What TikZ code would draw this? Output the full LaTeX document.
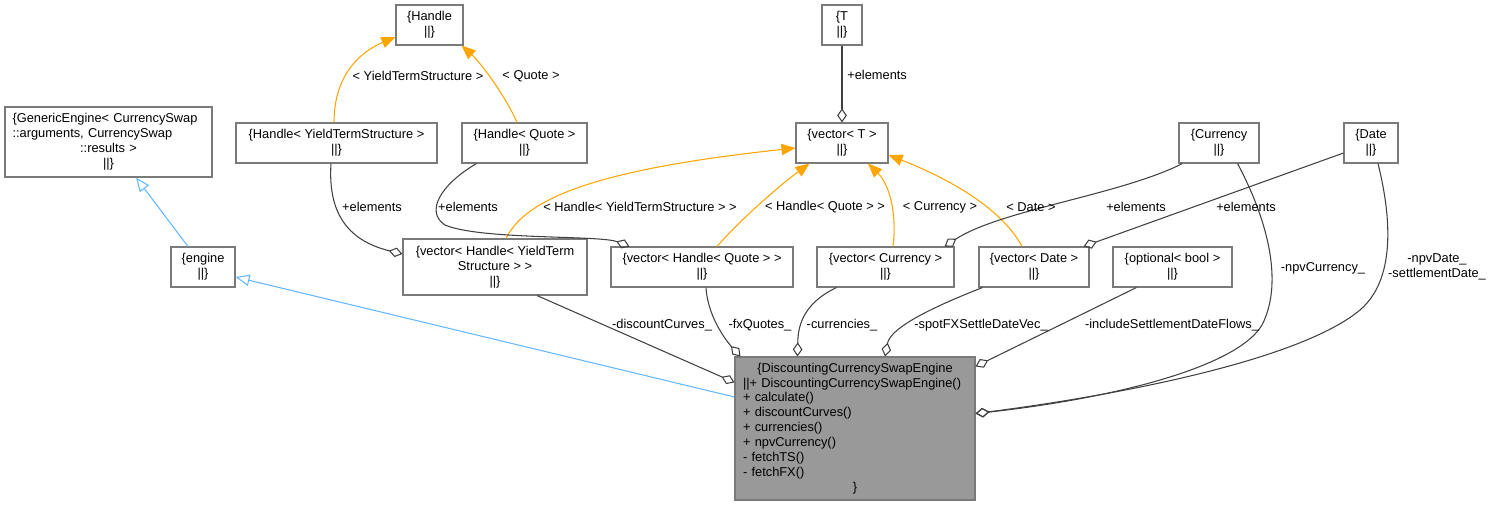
\documentclass[tikz,border=0pt]{standalone}
\usepackage{fontspec}
\setmainfont{Liberation Sans}
\usetikzlibrary{arrows.meta, calc}
\definecolor{edgegray}{HTML}{404040}
\definecolor{boxgray}{HTML}{7A7A7A}
\definecolor{clsfill}{HTML}{999999}
\definecolor{inhblue}{HTML}{63B8FF}
\definecolor{tplorange}{HTML}{FFA500}

\begin{document}
\begin{tikzpicture}[x=0.02cm, y=-0.02cm,
  every node/.style={font=\fontsize{7.3}{8.5}\selectfont},
  rec/.style 2 args={draw=boxgray, line width=0.6pt, fill=white, inner sep=0pt, minimum width=#1*0.02cm, minimum height=#2*0.02cm},
  cls/.style 2 args={rec={#1}{#2}, align=center},
  agg/.style={draw=edgegray, line width=0.6pt, -{Diamond[open,length=8pt,width=5.5pt]}},
  inh/.style={draw=inhblue, line width=0.6pt, -{Triangle[open,length=8pt,width=6.5pt]}},
  tpl/.style={draw=tplorange, line width=0.6pt, -{Triangle[length=8pt,width=6.5pt]}},
  lbl/.style={inner sep=0pt, align=center}]
\useasboundingbox (0,0) rectangle (1493,505);

\node[cls={67}{40}] (handle) at (429.5,25) {\{Handle\\||\}};
\node[cls={40}{40}] (t) at (842,25) {\{T\\||\}};
\node[rec={207}{70}, text width=3.84cm] (generic) at (108.5,142) {\raggedright\{GenericEngine< CurrencySwap\\::arguments, CurrencySwap\par\centering ::results >\\||\}\par};
\node[cls={201}{40}] (hyts) at (336.5,143) {\{Handle< YieldTermStructure >\\||\}};
\node[cls={125}{40}] (hquote) at (524.5,143) {\{Handle< Quote >\\||\}};
\node[cls={92}{40}] (vect) at (842,143) {\{vector< T >\\||\}};
\node[cls={80}{40}] (ccy) at (1219,143) {\{Currency\\||\}};
\node[cls={54}{40}] (date) at (1371,143) {\{Date\\||\}};
\node[cls={64}{40}] (engine) at (203,267) {\{engine\\||\}};
\node[cls={184}{56}] (vhyts) at (495,267) {\{vector< Handle< YieldTerm\\Structure > >\\||\}};
\node[cls={182}{40}] (vhquote) at (702,267) {\{vector< Handle< Quote > >\\||\}};
\node[cls={137}{40}] (vccy) at (885.5,267) {\{vector< Currency >\\||\}};
\node[cls={110}{40}] (vdate) at (1034,267) {\{vector< Date >\\||\}};
\node[cls={119}{40}] (optb) at (1172.5,267) {\{optional< bool >\\||\}};
\node[rec={240}{143}, fill=clsfill, text width=4.48cm] (main) at (855,428.5) {\centering\{DiscountingCurrencySwapEngine\par\raggedright ||+ DiscountingCurrencySwapEngine()\\+ calculate()\\+ discountCurves()\\+ currencies()\\+ npvCurrency()\\- fetchTS()\\- fetchFX()\par\centering\}\par};

\draw[inh] ($(engine.north)+(-15,0)$) -- ($(generic.south)+(27.5,0)$);
\draw[inh] ($(main.west)+(0,-31.5)$) -- ($(engine.east)+(0,10)$);
\draw[tpl] ($(hyts.north)+(-2.5,0)$) .. controls (334,75) and (360,52) .. ($(handle.west)+(0,12)$);
\draw[tpl] ($(hquote.north)+(-7.5,0)$) .. controls (505,95) and (480,62) .. ($(handle.south east)+(-2,0)$);
\draw[agg] (t) -- (vect);
\draw[tpl] ($(vhyts.north)+(11,0)$) .. controls (525,200) and (590,170) .. ($(vect.west)+(0,5)$);
\draw[tpl] ($(vhquote.north)+(15,0)$) .. controls (740,220) and (780,185) .. ($(vect.south west)+(14,0)$);
\draw[tpl] ($(vccy.north)+(7.5,0)$) .. controls (897,215) and (890,185) .. ($(vect.south)+(26,0)$);
\draw[tpl] ($(vdate.north)+(-12,0)$) .. controls (1000,205) and (940,175) .. ($(vect.east)+(0,12)$);
\draw[agg] ($(hyts.south)+(-5.5,0)$) .. controls (328,210) and (345,240) .. ($(vhyts.west)+(0,-13)$);
\draw[agg] ($(hquote.south west)+(15,0)$) .. controls (440,185) and (425,212) .. (445,225) .. controls (480,240) and (600,235) .. ($(vhquote.north west)+(19,0)$);
\draw[agg] ($(ccy.south west)+(4,0)$) .. controls (1120,195) and (1000,210) .. ($(vccy.north east)+(-10,0)$);
\draw[agg] ($(date.west)+(0,10)$) -- ($(vdate.north east)+(-6,0)$);
\draw[agg] ($(vhyts.south)+(42,0)$) -- ($(main.north west)+(0,26)$);
\draw[agg] ($(vhquote.south)+(4,0)$) .. controls (708,320) and (730,345) .. ($(main.north west)+(6,0)$);
\draw[agg] ($(vccy.south west)+(20,0)$) .. controls (800,305) and (798,330) .. ($(main.north west)+(63,0)$);
\draw[agg] ($(vdate.south west)+(4,0)$) .. controls (920,312) and (890,330) .. ($(main.north)+(30,0)$);
\draw[agg] ($(optb.south west)+(24,0)$) -- ($(main.north east)+(0,10)$);
\draw[agg] ($(ccy.south east)+(-22,0)$) .. controls (1265,215) and (1285,280) .. (1262,325) .. controls (1235,370) and (1100,400) .. ($(main.east)+(0,-15)$);
\draw[agg] ($(date.south)+(7,0)$) .. controls (1392,220) and (1395,280) .. (1360,310) .. controls (1300,360) and (1120,395) .. ($(main.east)+(0,-15)$);

\node[lbl] (l-hyts) at (418,76) {< YieldTermStructure >};
\node[lbl] (l-quote) at (531,76) {< Quote >};
\node[lbl, anchor=west] (l-telem) at (847,75) {+elements};
\node[lbl] (l-vhyts) at (640,207) {< Handle< YieldTermStructure > >};
\node[lbl] (l-vhquote) at (825,207) {< Handle< Quote > >};
\node[lbl] (l-vccy) at (940,207) {< Currency >};
\node[lbl] (l-vdate) at (1031,207) {< Date >};
\node[lbl] (l-hytselem) at (372,207) {+elements};
\node[lbl] (l-hquoteelem) at (468,207) {+elements};
\node[lbl] (l-ccyelem) at (1136,207) {+elements};
\node[lbl] (l-dateelem) at (1246,207) {+elements};
\node[lbl] (l-disc) at (662,325) {-discountCurves\_};
\node[lbl] (l-fx) at (760,325) {-fxQuotes\_};
\node[lbl] (l-ccys) at (842,325) {-currencies\_};
\node[lbl] (l-spot) at (981,325) {-spotFXSettleDateVec\_};
\node[lbl] (l-incl) at (1172,325) {-includeSettlementDateFlows\_};
\node[lbl] (l-npvccy) at (1323,268) {-npvCurrency\_};
\node[lbl] (l-npvdate) at (1437,267) {-npvDate\_\\-settlementDate\_};
\end{tikzpicture}
\end{document}
